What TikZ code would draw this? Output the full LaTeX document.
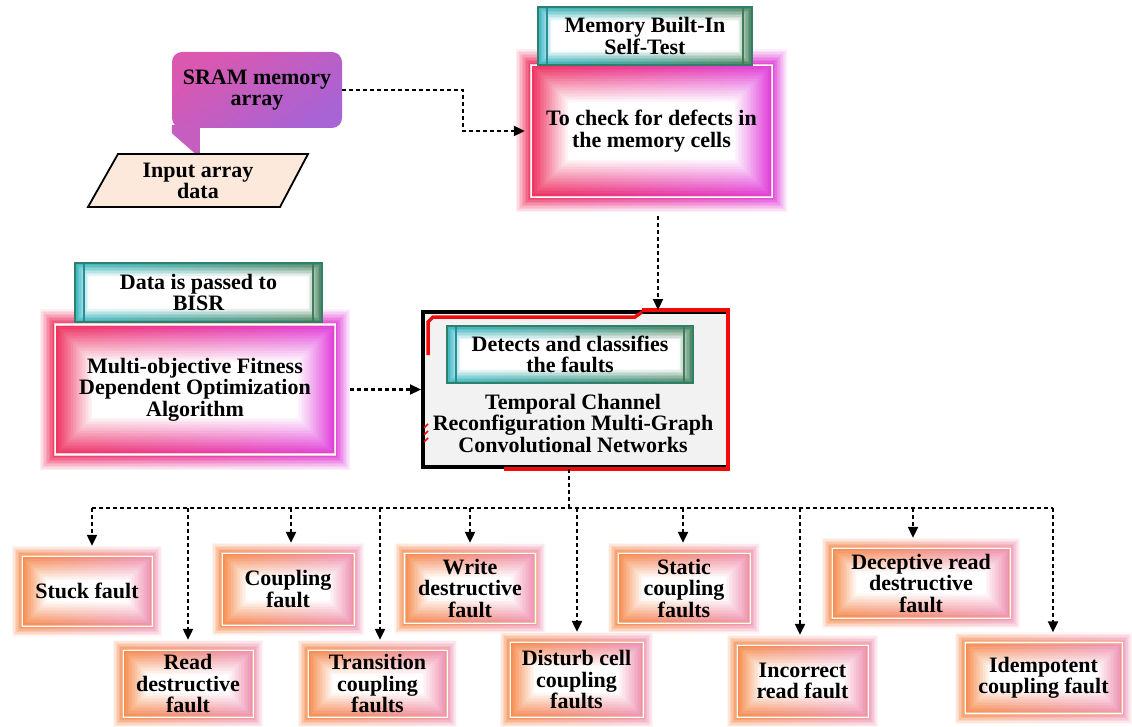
\documentclass[tikz,border=0pt]{standalone}
\usepackage{fontspec}
\setmainfont{Liberation Serif}
\usetikzlibrary{arrows.meta,calc,backgrounds}
\definecolor{pinkL}{HTML}{EE2D5B}
\definecolor{pinkR}{HTML}{E03ADA}
\definecolor{pinkFrame}{HTML}{F9C9D2}
\definecolor{orL}{HTML}{F5894A}
\definecolor{orR}{HTML}{EE8FB0}
\definecolor{orFrame}{HTML}{F4BC96}
\definecolor{tealL}{HTML}{2EB2BE}
\definecolor{tealR}{HTML}{3E7D57}
\definecolor{bFrame}{HTML}{2F7F6B}
\definecolor{sramA}{HTML}{DB58B0}
\definecolor{sramB}{HTML}{A863D4}
\definecolor{sramT}{HTML}{C65EC0}
\definecolor{inputFill}{HTML}{FCE9DB}
\definecolor{tcFill}{HTML}{F2F2F2}
\definecolor{tcRed}{HTML}{F20A0A}
\tikzset{
  lbl/.style={font=\fontsize{22}{21.5}\selectfont\bfseries, align=center, text=black, inner sep=0pt},
  glowbox/.style n args={6}{path picture={
      \foreach \dd in {0,1.5,...,#5}{
        \pgfmathtruncatemacro\pp{\dd<#3 ? 8+92*\dd/#3 : max(0,100-100*(\dd-#3)/#4)}
        \shade[left color=#1!\pp!white, right color=#2!\pp!white]
          ([shift={(\dd,-\dd)}]path picture bounding box.south west) rectangle
          ([shift={(-\dd,\dd)}]path picture bounding box.north east);
      }
      \draw[#6, line width=2.6pt]
          ([shift={(#3,-#3)}]path picture bounding box.south west) rectangle
          ([shift={(-#3,#3)}]path picture bounding box.north east);
      \draw[white, line width=0.9pt]
          ([shift={(#3,-#3)}]path picture bounding box.south west) rectangle
          ([shift={(-#3,#3)}]path picture bounding box.north east);
  }},
  pinkbox/.style={glowbox={pinkL}{pinkR}{15}{38}{54}{pinkFrame}},
  faultbox/.style={glowbox={orL}{orR}{10}{25}{40}{orFrame}},
  bannerbox/.style={draw=bFrame, line width=2.2pt, path picture={
      \foreach \dd in {0,1.5,...,15}{
        \pgfmathtruncatemacro\pp{max(0,100-100*\dd/14)}
        \shade[left color=tealL!\pp!white, right color=tealR!\pp!white]
          ([shift={(\dd,-\dd)}]path picture bounding box.south west) rectangle
          ([shift={(-\dd,\dd)}]path picture bounding box.north east);
      }
      \draw[tealL!80!black, line width=1.2pt]
          ([xshift=9pt]path picture bounding box.south west) -- ([xshift=9pt]path picture bounding box.north west);
      \draw[tealR, line width=1.2pt]
          ([xshift=-9pt]path picture bounding box.south east) -- ([xshift=-9pt]path picture bounding box.north east);
  }},
  conn/.style={line width=2.2pt, dash pattern=on 4pt off 3pt, -{Triangle[length=11pt,width=10pt]}},
  busline/.style={line width=2.2pt, dash pattern=on 4pt off 3pt},
}
\begin{document}
\begin{tikzpicture}[x=1pt,y=-1pt]
\useasboundingbox (0,0) rectangle (1132,727);
\fill[white] (0,0) rectangle (1132,727);

% SRAM callout and input
\node[lbl, rounded corners=10pt, minimum width=170pt, minimum height=76pt,
      top color=sramA, bottom color=sramB, shading angle=35] (sram) at (257,90) {SRAM memory\\array};
\fill[sramT] ([shift={(0,-3)}]sram.south west) -- ++(28,0) -- ++(0,29) -- ++(-4,0) -- ++(-24,-21) -- cycle;
\draw[fill=inputFill, line width=1.8pt] (118,154) -- (308,154) -- (280,207) -- (88,207) -- cycle;
\node[lbl] (input) at (198,181) {Input array\\data};

% MBIST
\node[lbl, pinkbox, minimum width=271pt, minimum height=162pt] (bist) at (651.5,131) {To check for defects in\\the memory cells};
\node[lbl, bannerbox, minimum width=214pt, minimum height=58pt] (bisthead) at (645,36) {Memory Built-In\\Self-Test};

% MFDO
\node[lbl, pinkbox, minimum width=310pt, minimum height=160pt] (mfdo) at (195,389.5) {Multi-objective Fitness\\Dependent Optimization\\Algorithm};
\node[lbl, bannerbox, minimum width=247pt, minimum height=59pt] (bisr) at (198.5,292.5) {Data is passed to\\BISR};

% TCRMGCN
\node[fill=tcFill, draw=black, line width=4pt, minimum width=305pt, minimum height=155pt, inner sep=0pt] (tc) at (575.5,389.5) {};
\draw[tcRed, line width=4pt] ([xshift=-88pt]tc.north east) -- ([shift={(-2,0)}]tc.north east) -- ([shift={(-2,0)}]tc.south east) -- ([xshift=-226pt]tc.south east);
\draw[tcRed, line width=3.5pt] ([shift={(7,45)}]tc.north west) -- ([shift={(7,12)}]tc.north west) -- ([shift={(12,7)}]tc.north west) -- ([shift={(214,7)}]tc.north west) -- ([shift={(221,2)}]tc.north west);
\foreach \k in {0,1,2}
  \draw[tcRed, line width=1.6pt] ([shift={(3,118+\k*7)}]tc.north west) -- ++(4,-4);
\node[lbl, bannerbox, minimum width=246pt, minimum height=57pt] (detect) at (570,354.5) {Detects and classifies\\the faults};
\node[lbl] (tctxt) at (573,423) {Temporal Channel\\Reconfiguration Multi-Graph\\Convolutional Networks};

% Fault boxes
\node[lbl, faultbox, minimum width=150pt, minimum height=90pt] (stuck) at (87,591) {Stuck fault};
\node[lbl, faultbox, minimum width=152pt, minimum height=92pt] (coup) at (288,589) {Coupling\\fault};
\node[lbl, faultbox, minimum width=151pt, minimum height=90pt] (write) at (470,588) {Write\\destructive\\fault};
\node[lbl, faultbox, minimum width=152pt, minimum height=90pt] (stat) at (684,588) {Static\\coupling\\faults};
\node[lbl, faultbox, minimum width=198pt, minimum height=90pt] (dec) at (921,583) {Deceptive read\\destructive\\fault};
\node[lbl, faultbox, minimum width=150pt, minimum height=87pt] (read) at (188,683.5) {Read\\destructive\\fault};
\node[lbl, faultbox, minimum width=159pt, minimum height=87pt] (trans) at (377.5,683.5) {Transition\\coupling\\faults};
\node[lbl, faultbox, minimum width=153pt, minimum height=95pt] (dist) at (576.5,679.5) {Disturb cell\\coupling\\faults};
\node[lbl, faultbox, minimum width=151pt, minimum height=92pt] (inc) at (802.5,681) {Incorrect\\read fault};
\node[lbl, faultbox, minimum width=177pt, minimum height=91pt] (idem) at (1043.5,678) {Idempotent\\coupling fault};

% stacked sheets behind
\begin{scope}[on background layer]
\foreach \n/\c/\a in {bist/pinkL/-3, mfdo/pinkL/-3, stuck/orL/-4, coup/orL/-4, write/orL/-4, stat/orL/-4, dec/orL/-3, read/orL/-4, trans/orL/-4, dist/orL/-4, inc/orL/-4, idem/orL/-3}
  \draw[fill=\c!12!white, draw=\c!35!white, line width=0.8pt, rotate around={\a:(\n.center)}]
    ([shift={(6,-2)}]\n.south west) rectangle ([shift={(-6,2)}]\n.north east);
\end{scope}

% connectors
\draw[conn, shorten >=-9pt] (sram.east) -- ++(121,0) |- (bist.west);
\coordinate (bistout) at ($(bist.south)+(6.5,4)$);
\draw[conn] (bistout) -- (bistout |- tc.north);
\draw[conn] (mfdo.east) -- (tc.west);
\coordinate (tcout) at ($(tc.south)+(-6.5,0)$);
\coordinate (bus) at ($(tc.south)+(-6.5,39)$);
\draw[busline] (tcout) -- (bus);
\foreach \n/\s in {stuck/5, read/0, coup/3, trans/2.5, write/0, dist/0.5, stat/-1, inc/-2.5, dec/-8, idem/9.5}{
  \coordinate (d\n) at ($(\n.north)+(\s,0)$);
  \draw[conn] (d\n |- bus) -- (d\n);
}
\draw[busline] (dstuck |- bus) -- (didem |- bus);
\end{tikzpicture}
\end{document}
